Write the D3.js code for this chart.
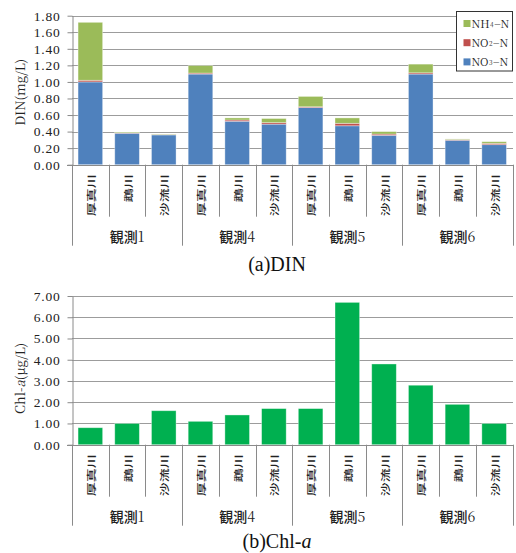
<!DOCTYPE html>
<html>
<head>
<meta charset="utf-8">
<script src="https://cdn.jsdelivr.net/npm/d3@7"></script>
<style>
  html, body { margin: 0; padding: 0; background: #fff; }
  svg { display: block; }
</style>
</head>
<body>
<svg id="chart" width="516" height="553"></svg>
<script>
// Sampling campaigns and rivers
const groups = ["観測1", "観測4", "観測5", "観測6"];
const rivers = ["厚真川", "鵡川", "沙流川"];

// DIN components (mg/L), one value per campaign × river
const no3 = [1.00, 0.38, 0.36, 1.095, 0.525, 0.49, 0.69, 0.47, 0.355, 1.095, 0.295, 0.242];
const no2 = [0.02, 0.005, 0.004, 0.012, 0.015, 0.018, 0.01, 0.03, 0.015, 0.015, 0.008, 0.016];
const nh4 = [0.70, 0.01, 0.005, 0.09, 0.025, 0.05, 0.125, 0.065, 0.03, 0.105, 0.008, 0.02];

// Chlorophyll-a (µg/L)
const chl = [0.8, 1.0, 1.6, 1.1, 1.4, 1.7, 1.7, 6.7, 3.8, 2.8, 1.9, 1.0];

// Tick values
const dinTicks = [0, 0.2, 0.4, 0.6, 0.8, 1.0, 1.2, 1.4, 1.6, 1.8];
const chlTicks = [0, 1, 2, 3, 4, 5, 6, 7];

const seriesKeys = ["NO3", "NO2", "NH4"];
const seriesLabels = { NH4: ["NH", "4", "−N"], NO2: ["NO", "2", "−N"], NO3: ["NO", "3", "−N"] };
const colors = { NO3: "#4F81BD", NO2: "#C0504D", NH4: "#9BBB59" };
const chlColor = "#00B050";

const svg = d3.select("#chart");
const mincho = '"Noto Serif CJK JP", serif';
const gothic = '"Noto Sans CJK JP", sans-serif';
const roman = '"Liberation Serif", "Times New Roman", serif';

const cats = d3.range(groups.length * rivers.length);
const x = d3.scaleBand().domain(cats).range([72, 512.5]).paddingInner(0.33).paddingOuter(0.165);
const step = x.step();
const x0 = 72;

function drawPanel(opts) {
  const { y, ticks, yTitle, caption, captionY } = opts;
  const g = svg.append("g");
  const [yBottom, yTop] = y.range();

  // Gridlines
  g.append("g").selectAll("line").data(ticks.filter(t => t > 0)).join("line")
    .attr("x1", x0).attr("x2", 513)
    .attr("y1", d => Math.round(y(d)) + 0.5).attr("y2", d => Math.round(y(d)) + 0.5)
    .attr("stroke", "#9c9c9c").attr("stroke-width", 1);

  // Y axis
  const ax = g.append("g").attr("transform", `translate(${x0 + 0.5},0)`)
    .call(d3.axisLeft(y).tickValues(ticks).tickFormat(d3.format(".2f")).tickSizeInner(5).tickSizeOuter(0).tickPadding(7));
  ax.select(".domain").attr("stroke", "#8a8a8a");
  ax.selectAll(".tick line").attr("stroke", "#8a8a8a");
  ax.selectAll(".tick text")
    .attr("font-family", roman).attr("font-size", 13.5)
    .attr("letter-spacing", 0.8).attr("fill", "#222");

  opts.drawBars(g);

  // X baseline
  g.append("line").attr("x1", x0 - 5).attr("x2", 513)
    .attr("y1", Math.round(yBottom) + 0.5).attr("y2", Math.round(yBottom) + 0.5)
    .attr("stroke", "#8a8a8a");

  // Category separators: short inside a campaign, long at campaign boundaries
  g.append("g").selectAll("line").data(d3.range(cats.length + 1)).join("line")
    .attr("x1", i => Math.round(x0 + i * step) + 0.5).attr("x2", i => Math.round(x0 + i * step) + 0.5)
    .attr("y1", yBottom)
    .attr("y2", i => yBottom + (i % rivers.length === 0 ? 81 : 52))
    .attr("stroke", "#8a8a8a");

  // River labels (rotated)
  g.append("g").selectAll("text").data(cats).join("text")
    .attr("transform", i => `translate(${x(i) + x.bandwidth() / 2 + 4.5},${yBottom + 9.5}) rotate(-90) scale(1,0.68)`)
    .attr("text-anchor", "end")
    .attr("font-family", gothic).attr("font-size", 14).attr("font-weight", 500)
    .attr("fill", "#222")
    .text(i => rivers[i % rivers.length]);

  // Campaign labels: gothic kanji, serif numeral
  const gl = g.append("g").selectAll("text").data(groups).join("text")
    .attr("x", (d, k) => x0 + (k * rivers.length + rivers.length / 2) * step)
    .attr("y", yBottom + 77.5)
    .attr("text-anchor", "middle")
    .attr("font-size", 14).attr("fill", "#222");
  gl.append("tspan").attr("font-family", gothic).attr("font-weight", 500).text(d => d.slice(0, 2));
  gl.append("tspan").attr("font-family", mincho).text(d => d.slice(2));

  // Y title
  const yt = g.append("text")
    .attr("transform", `translate(25,${(yBottom + yTop) / 2 + opts.titleShift}) rotate(-90)`)
    .attr("text-anchor", "middle")
    .attr("font-family", mincho).attr("font-size", 13).attr("fill", "#222");
  yTitle(yt);

  // Caption
  const cap = g.append("text").attr("x", 277).attr("y", captionY)
    .attr("text-anchor", "middle")
    .attr("font-family", roman).attr("font-size", 20).attr("fill", "#111");
  caption(cap);
}

// ---- (a) DIN stacked bars ----
const yDin = d3.scaleLinear().domain([0, 1.8]).range([164.7, 15.7]);
const rows = cats.map(i => ({ i, NO3: no3[i], NO2: no2[i], NH4: nh4[i] }));
const stacked = d3.stack().keys(seriesKeys)(rows);

drawPanel({
  y: yDin, ticks: dinTicks, titleShift: 2, captionY: 271,
  drawBars: g => {
    g.append("g").selectAll("g").data(stacked).join("g")
      .attr("fill", s => colors[s.key])
      .selectAll("rect").data(s => s).join("rect")
      .attr("x", d => x(d.data.i)).attr("width", x.bandwidth())
      .attr("y", d => yDin(d[1])).attr("height", d => Math.max(0, yDin(d[0]) - yDin(d[1])))
      .attr("stroke", "rgba(255,255,255,0.45)").attr("stroke-width", 0.8);
  },
  yTitle: t => t.text("DIN(mg/L)"),
  caption: c => c.text("(a)DIN")
});

// Legend
const lg = svg.append("g");
lg.append("rect").attr("x", 456.5).attr("y", 11.5).attr("width", 56).attr("height", 59.5)
  .attr("fill", "#fff").attr("stroke", "#333").attr("stroke-width", 1);
["NH4", "NO2", "NO3"].forEach((k, r) => {
  const cy = 23.5 + r * 19.2;
  lg.append("rect").attr("x", 463.5).attr("y", cy - 3.5).attr("width", 7).attr("height", 7).attr("fill", colors[k]);
  const t = lg.append("text").attr("x", 471.5).attr("y", cy + 4)
    .attr("font-family", mincho).attr("font-size", 11).attr("fill", "#222");
  const [a, sub, b] = seriesLabels[k];
  t.append("tspan").text(a);
  t.append("tspan").attr("font-size", 6.5).attr("dx", 0.5).attr("dy", -1).text(sub);
  t.append("tspan").attr("dx", 0.5).attr("dy", 1).text(b);
});

// ---- (b) Chl-a bars ----
const yChl = d3.scaleLinear().domain([0, 7]).range([444.7, 296]);
drawPanel({
  y: yChl, ticks: chlTicks, titleShift: 8, captionY: 548,
  drawBars: g => {
    g.append("g").selectAll("rect").data(cats).join("rect")
      .attr("x", i => x(i)).attr("width", x.bandwidth())
      .attr("y", i => yChl(chl[i])).attr("height", i => yChl(0) - yChl(chl[i]))
      .attr("fill", chlColor)
      .attr("stroke", "rgba(255,255,255,0.45)").attr("stroke-width", 0.8);
  },
  yTitle: t => {
    t.append("tspan").text("Chl-");
    t.append("tspan").attr("font-style", "italic").text("a");
    t.append("tspan").text("(μg/L)");
  },
  caption: c => {
    c.append("tspan").text("(b)Chl-");
    c.append("tspan").attr("font-style", "italic").text("a");
  }
});
</script>
</body>
</html>
